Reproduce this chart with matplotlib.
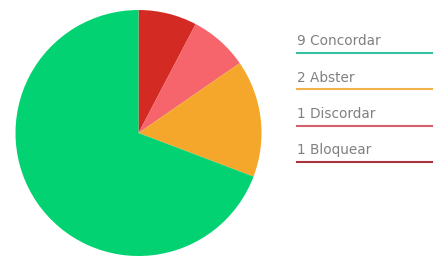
import matplotlib.pyplot as plt
from matplotlib.lines import Line2D

# slices in drawing order, clockwise from 12 o'clock
labels = ['Bloquear', 'Discordar', 'Abster', 'Concordar']
votes = [1, 1, 2, 9]
slice_colors = ['#D42A24', '#F6646C', '#F5A72C', '#03D272']

# legend order (top to bottom)
legend_labels = ['Concordar', 'Abster', 'Discordar', 'Bloquear']
legend_votes = [9, 2, 1, 1]
legend_colors = ['#33BFA0', '#F2B24A', '#D4606E', '#A8323E']

W, H = 438, 262
fig = plt.figure(figsize=(W / 100, H / 100), dpi=100)
fig.patch.set_facecolor('white')

cx, cy, r = 138.5, 133, 123
ax = fig.add_axes([(cx - r) / W, (H - cy - r) / H, 2 * r / W, 2 * r / H])
ax.pie(votes, colors=slice_colors, startangle=90, counterclock=False,
       radius=1, wedgeprops=dict(linewidth=0))
ax.set_xlim(-1, 1)
ax.set_ylim(-1, 1)
ax.set_aspect('equal')
ax.axis('off')

x0, x1 = 297, 432
y_line0, step = 53, 36.3
for i, (lab, v, c) in enumerate(zip(legend_labels, legend_votes, legend_colors)):
    yl = y_line0 + i * step
    fig.add_artist(Line2D([x0 / W, x1 / W], [1 - yl / H, 1 - yl / H],
                          color=c, linewidth=1.5, transform=fig.transFigure))
    fig.text(x0 / W, 1 - (yl - 7.8) / H, f'{v} {lab}', fontsize=9.8,
             family='DejaVu Sans', color='#808080', va='baseline', ha='left')

fig.savefig('out.png', dpi=100)
